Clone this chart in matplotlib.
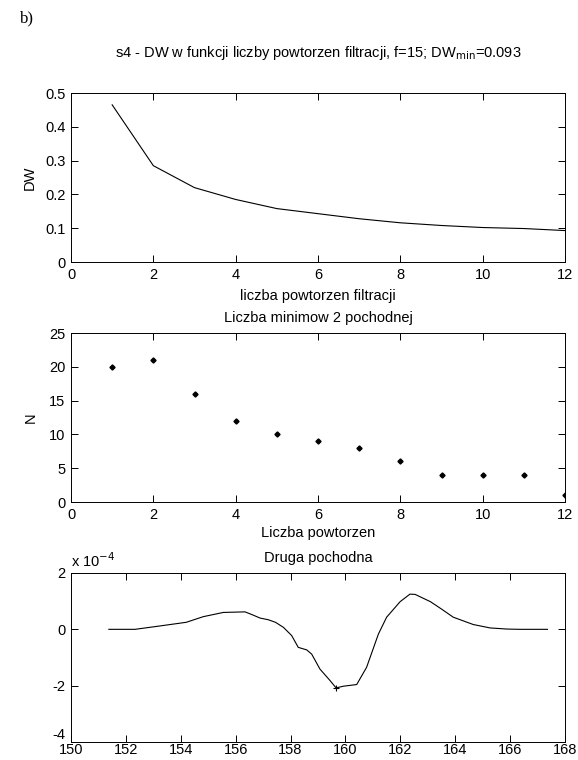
import matplotlib
matplotlib.use("Agg")
import matplotlib.pyplot as plt
import numpy as np

# ---- data ----
reps = [1, 2, 3, 4, 5, 6, 7, 8, 9, 10, 11, 12]
dw = [0.465, 0.285, 0.220, 0.185, 0.158, 0.143, 0.128, 0.116, 0.108, 0.102, 0.099, 0.093]
n_min = [20, 21, 16, 12, 10, 9, 8, 6, 4, 4, 4, 1]

d2_x = [151.38, 152.33, 153.24, 154.2, 154.82, 155.55, 156.34, 156.6, 156.89, 157.19,
        157.45, 157.74, 158.04, 158.28, 158.59, 158.77, 159.07, 159.44, 159.66, 159.92,
        160.41, 160.77, 161.2, 161.5, 161.99, 162.35, 162.54, 163.1, 163.5, 163.93,
        164.66, 165.27, 165.88, 166.36, 167.36]
d2_y = [0.0, 0.0, 0.12, 0.25, 0.45, 0.6, 0.62, 0.52, 0.40, 0.34,
        0.25, 0.07, -0.22, -0.64, -0.73, -0.88, -1.41, -1.82, -2.08, -2.02,
        -1.96, -1.35, -0.17, 0.43, 0.98, 1.25, 1.24, 0.98, 0.72, 0.43,
        0.17, 0.05, 0.01, 0.0, 0.0]   # in units of 1e-4
d2_min_x = [159.66]
d2_min_y = [-2.08]

plt.rcParams['font.family'] = ['Liberation Sans', 'DejaVu Sans']
plt.rcParams['font.size'] = 10.5
plt.rcParams['axes.linewidth'] = 0.7

fig = plt.figure(figsize=(5.78, 7.6), dpi=100)

W, H = 578, 760
def add_ax(left, top, right, bottom):
    return fig.add_axes([left / W, 1 - bottom / H, (right - left) / W, (bottom - top) / H])

FS = 10.5
def style(ax):
    ax.tick_params(direction='in', top=True, right=True, length=5, width=0.7,
                   pad=4, labelsize=FS, colors='black')
    for s in ax.spines.values():
        s.set_color('black')

ax1 = add_ax(71, 93, 565, 262)
ax1.plot(reps, dw, color='black', lw=0.8)
ax1.set_xlim(0, 12); ax1.set_ylim(0, 0.5)
ax1.set_xticks(range(0, 13, 2))
ax1.set_yticks([0, 0.1, 0.2, 0.3, 0.4, 0.5])
ax1.set_yticklabels(['0', '0.1', '0.2', '0.3', '0.4', '0.5'])
style(ax1)
ax1.set_ylabel('DW', fontsize=FS, labelpad=6)
ax1.set_xlabel('liczba powtorzen filtracji', fontsize=FS, labelpad=5)
ax1.set_title(r's4 - DW w funkcji liczby powtorzen filtracji, f=15; DW$_{\mathrm{min}}$=0.093',
              fontsize=FS, pad=26)

ax2 = add_ax(71, 333, 565, 502)
ax2.plot(reps, n_min, linestyle='none', marker='D', markersize=2.6, color='black')
ax2.set_xlim(0, 12); ax2.set_ylim(0, 25)
ax2.set_xticks(range(0, 13, 2))
ax2.set_yticks(range(0, 26, 5))
style(ax2)
ax2.set_ylabel('N', fontsize=FS, labelpad=8)
ax2.set_xlabel('Liczba powtorzen', fontsize=FS, labelpad=3)
ax2.set_title('Liczba minimow 2 pochodnej', fontsize=FS, pad=8)

ax3 = add_ax(71, 573, 565, 742)
ax3.plot(d2_x, d2_y, color='black', lw=0.8)
ax3.plot(d2_min_x, d2_min_y, linestyle='none', marker='+', markersize=4, color='black', mew=0.8)
ax3.set_xlim(150, 168); ax3.set_ylim(-4, 2)
ax3.set_xticks(range(150, 169, 2))
ax3.set_yticks([-4, -2, 0, 2])
ax3.set_yticklabels(['-4', '-2', '0', '2'])
style(ax3)
ax3.tick_params(axis='x', pad=0.5)
ax3.get_yticklabels()[0].set_verticalalignment('bottom')
ax3.set_title('Druga pochodna', fontsize=FS, pad=8)
ax3.text(0.0, 1.02, r'x 10$^{-4}$', transform=ax3.transAxes, fontsize=FS, ha='left', va='bottom')

fig.text(20 / W, 1 - 18 / H, 'b)', family='Liberation Serif', fontsize=12, va='center', ha='left')

fig.savefig('out.png', dpi=100)
